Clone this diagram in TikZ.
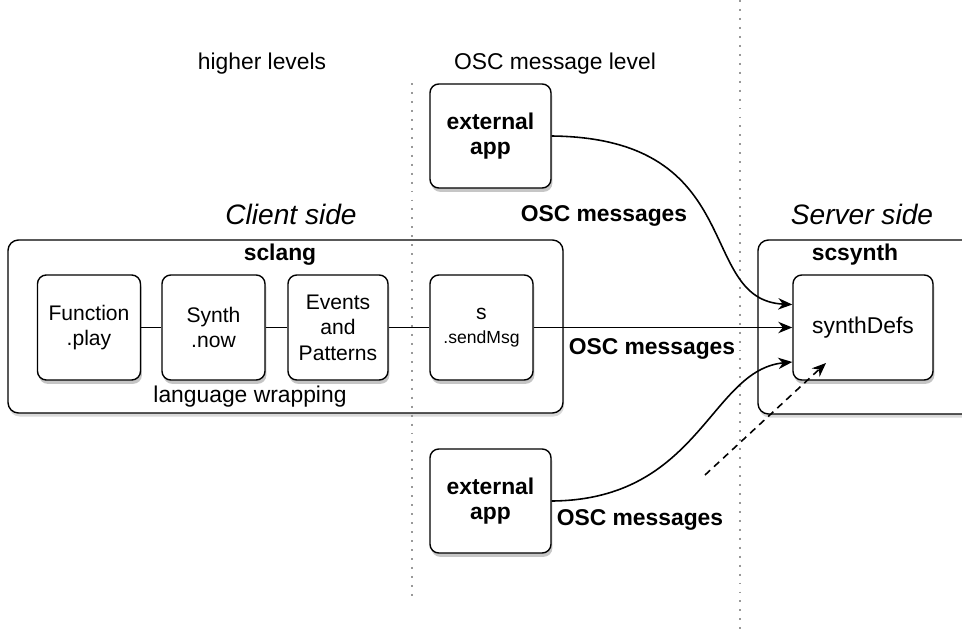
\documentclass[tikz,border=0pt]{standalone}
\usepackage{fontspec}
\setmainfont{Liberation Sans}
\usepackage{tikz}
\usetikzlibrary{arrows.meta, positioning, shadows}

\begin{document}
\begin{tikzpicture}[
    box/.style={rectangle, rounded corners=5pt, draw, thick, fill=white,
                minimum width=2.06cm, minimum height=2.1cm, align=center,
                font=\fontsize{12}{14.5}\selectfont,
                drop shadow={shadow xshift=0.8pt, shadow yshift=-2.2pt, opacity=0.45}},
    appbox/.style={box, minimum width=2.42cm, minimum height=2.08cm,
                font=\fontsize{13}{14}\selectfont\bfseries},
    grp/.style={rectangle, rounded corners=6pt, draw, thick, fill=white,
                drop shadow={shadow xshift=0.6pt, shadow yshift=-2pt, opacity=0.3}},
    arr/.style={-{Stealth[length=8pt, width=6.5pt]}, line width=0.9pt},
    darr/.style={arr, dash pattern=on 4pt off 3pt},
    lvl/.style={font=\fontsize{13}{15}\selectfont},
    side/.style={font=\fontsize{16}{18}\selectfont\itshape},
    msg/.style={font=\fontsize{13}{15}\selectfont\bfseries},
    sep/.style={gray!80, line width=1.1pt, dash pattern=on 1.1pt off 4pt}
]
    \clip (0,0) rectangle (19.24,-12.64);
    \node[grp, minimum width=11.1cm, minimum height=3.46cm] (sclang) at (5.71,-6.53) {};
    \node[grp, minimum width=4.64cm, minimum height=3.48cm] (scsynth) at (17.48,-6.54) {};
    \draw[sep] (8.24,-1.66) -- (8.24,-12.0);
    \draw[sep] (14.8,0) -- (14.8,-12.64);
    \node[lvl] (hl)   at (5.24,-1.28)  {higher levels};
    \node[lvl] (ol)   at (11.1,-1.28)  {OSC message level};
    \node[side] (cs)  at (5.82,-4.28)  {Client side};
    \node[side] (ss)  at (17.24,-4.28) {Server side};
    \node[msg] at (5.6,-5.1)   {sclang};
    \node[lvl] at (5.0,-7.94)  {language wrapping};
    \node[msg] at (17.1,-5.1)  {scsynth};
    \node[box] (fn)  at (1.78,-6.55) {Function\\.play};
    \node[box] (syn) at (4.27,-6.55) {Synth\\.now};
    \node[box, minimum width=2.0cm] (ev) at (6.76,-6.55) {Events\\and\\Patterns};
    \node[box] (snd) at (9.63,-6.55) {s\\[-1pt]{\fontsize{10}{12}\selectfont .sendMsg}};
    \node[box, minimum width=2.8cm, font=\fontsize{13}{15}\selectfont] (sd) at (17.26,-6.55) {synthDefs};
    \node[appbox] (ext1) at (9.81,-2.72)  {external\\app};
    \node[appbox] (ext2) at (9.81,-10.02) {external\\app};
    \draw[thick] (fn) -- (syn);
    \draw[thick] (syn) -- (ev);
    \draw[thick] (ev) -- (snd);
    \draw[arr] (snd) -- (sd);
    \draw[arr] (ext1.east) .. controls (15.0,-2.76) and (13.9,-6.0) .. (sd.162);
    \draw[arr] (ext2.east) .. controls (14.0,-10.0) and (14.2,-7.4) .. (sd.206);
    \coordinate (dsrc) at (14.1,-9.5);
    \coordinate (dtip) at (16.52,-7.26);
    \draw[darr] (dsrc) -- (dtip);
    \node[msg] at (12.08,-4.32) {OSC messages};
    \node[msg] at (13.04,-6.98) {OSC messages};
    \node[msg] at (12.8,-10.4)  {OSC messages};
\end{tikzpicture}
\end{document}
